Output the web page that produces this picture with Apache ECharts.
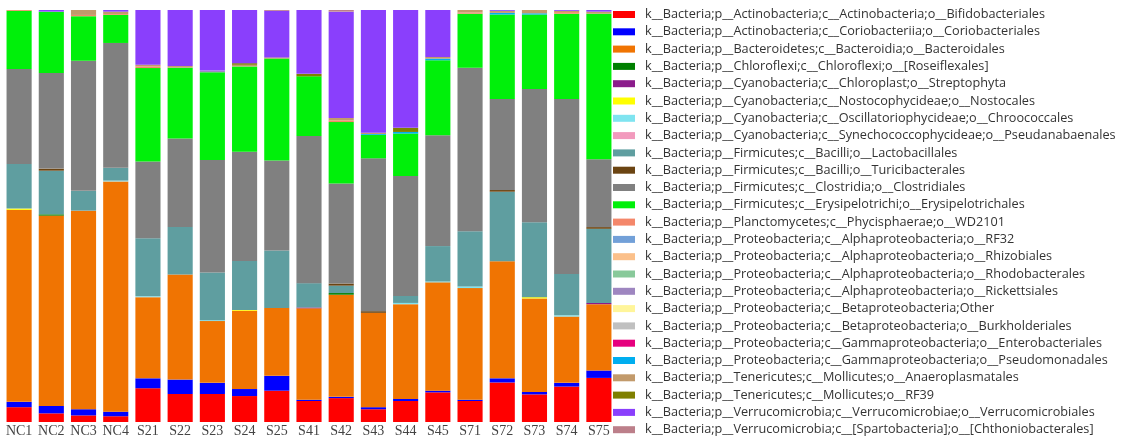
<!DOCTYPE html>
<html>
<head>
<meta charset="utf-8">
<script src="https://cdn.jsdelivr.net/npm/echarts@6/dist/echarts.min.js"></script>
<style>html,body{margin:0;padding:0;background:#fff;}#c{width:1125px;height:438px;}</style>
</head>
<body>
<div id="c"></div>
<script>
const categories = ['NC1','NC2','NC3','NC4','S21','S22','S23','S24','S25','S41','S42','S43','S44','S45','S71','S72','S73','S74','S75'];
const seriesNames = [
'k__Bacteria;p__Actinobacteria;c__Actinobacteria;o__Bifidobacteriales',
'k__Bacteria;p__Actinobacteria;c__Coriobacteriia;o__Coriobacteriales',
'k__Bacteria;p__Bacteroidetes;c__Bacteroidia;o__Bacteroidales',
'k__Bacteria;p__Chloroflexi;c__Chloroflexi;o__[Roseiflexales]',
'k__Bacteria;p__Cyanobacteria;c__Chloroplast;o__Streptophyta',
'k__Bacteria;p__Cyanobacteria;c__Nostocophycideae;o__Nostocales',
'k__Bacteria;p__Cyanobacteria;c__Oscillatoriophycideae;o__Chroococcales',
'k__Bacteria;p__Cyanobacteria;c__Synechococcophycideae;o__Pseudanabaenales',
'k__Bacteria;p__Firmicutes;c__Bacilli;o__Lactobacillales',
'k__Bacteria;p__Firmicutes;c__Bacilli;o__Turicibacterales',
'k__Bacteria;p__Firmicutes;c__Clostridia;o__Clostridiales',
'k__Bacteria;p__Firmicutes;c__Erysipelotrichi;o__Erysipelotrichales',
'k__Bacteria;p__Planctomycetes;c__Phycisphaerae;o__WD2101',
'k__Bacteria;p__Proteobacteria;c__Alphaproteobacteria;o__RF32',
'k__Bacteria;p__Proteobacteria;c__Alphaproteobacteria;o__Rhizobiales',
'k__Bacteria;p__Proteobacteria;c__Alphaproteobacteria;o__Rhodobacterales',
'k__Bacteria;p__Proteobacteria;c__Alphaproteobacteria;o__Rickettsiales',
'k__Bacteria;p__Proteobacteria;c__Betaproteobacteria;Other',
'k__Bacteria;p__Proteobacteria;c__Betaproteobacteria;o__Burkholderiales',
'k__Bacteria;p__Proteobacteria;c__Gammaproteobacteria;o__Enterobacteriales',
'k__Bacteria;p__Proteobacteria;c__Gammaproteobacteria;o__Pseudomonadales',
'k__Bacteria;p__Tenericutes;c__Mollicutes;o__Anaeroplasmatales',
'k__Bacteria;p__Tenericutes;c__Mollicutes;o__RF39',
'k__Bacteria;p__Verrucomicrobia;c__Verrucomicrobiae;o__Verrucomicrobiales',
'k__Bacteria;p__Verrucomicrobia;c__[Spartobacteria];o__[Chthoniobacterales]'
];
const colors = ['#FF0000','#0000FF','#F07402','#007F00','#8B1C8B','#FFFF00','#7FE4F0','#F29ABD','#5F9EA0','#6B4412','#808080','#00F00A','#F4876A','#72A0D8','#FBC08A','#88C99A','#9E86C0','#FFF59A','#C0C0C0','#E6007E','#00AEEF','#C29A6B','#7F7F00','#8A3FFC','#BC7F8A'];

// values in percent, one array per order (bottom to top of stack)
const bifidobacteriales   = [3.6,2.1,1.6,1.4,8.2,6.8,6.8,6.3,7.6,5.1,5.8,3.1,5.1,7.2,5.1,9.6,6.7,8.6,10.7];
const coriobacteriales    = [1.3,1.8,1.5,1.1,2.4,3.5,2.7,1.7,3.6,0.3,0.3,0.5,0.5,0.4,0.3,1.0,0.6,0.9,1.8];
const bacteroidales       = [46.6,46.2,48.2,55.9,19.7,25.5,15.0,19.0,16.5,22.2,24.8,22.9,23.0,26.3,27.1,28.4,22.7,16.1,16.1];
const roseiflexales       = [0,0.3,0,0,0,0,0,0,0,0,0.4,0,0,0,0,0,0,0,0];
const streptophyta        = [0,0,0,0,0,0,0,0,0,0.2,0,0,0,0,0,0,0,0,0.3];
const nostocales          = [0.3,0,0,0,0,0,0,0.2,0,0,0,0,0,0,0,0,0.3,0,0];
const chroococcales       = [0,0,0,0.2,0.2,0,0.2,0,0,0,0,0,0.3,0.2,0.4,0,0,0.3,0];
const pseudanabaenales    = [0,0,0,0,0,0,0,0,0,0,0,0,0,0,0,0,0,0,0];
const lactobacillales     = [10.8,10.6,4.8,3.1,14.1,11.5,11.6,11.9,13.9,5.9,1.8,0,1.7,8.6,13.4,16.9,18.2,10.0,18.0];
const turicibacterales    = [0,0.5,0,0,0,0,0,0,0,0,0.5,0.4,0,0,0,0.4,0,0,0.4];
const clostridiales       = [23.1,23.2,31.6,30.3,18.6,21.5,27.3,26.5,21.9,35.7,24.3,37.1,29.1,26.9,39.7,22.1,32.3,42.5,16.5];
const erysipelotrichales  = [14.1,14.9,10.8,6.8,22.7,17.2,21.3,20.7,24.7,14.5,14.9,5.7,10.3,18.2,13.1,20.5,18.1,20.7,35.3];
const wd2101              = [0.2,0,0.3,0.2,0.4,0,0,0,0,0,0.4,0,0,0,0.3,0,0,0.4,0];
const rf32                = [0,0,0,0,0,0,0,0,0,0,0,0,0,0,0,0,0,0,0];
const rhizobiales         = [0,0,0,0,0,0,0,0,0,0,0,0,0,0,0,0,0,0,0];
const rhodobacterales     = [0,0,0,0,0,0,0,0,0,0,0,0,0,0,0,0,0,0,0];
const rickettsiales       = [0,0,0,0,0,0,0.4,0,0,0,0,0,0,0,0,0,0,0,0];
const betaOther           = [0,0,0,0,0,0,0,0,0,0,0,0,0,0,0,0,0,0,0];
const burkholderiales     = [0,0,0,0,0,0,0,0,0,0,0,0,0,0,0,0,0,0,0];
const enterobacteriales   = [0,0,0,0,0,0,0,0,0,0,0,0,0,0,0,0,0,0,0];
const pseudomonadales     = [0,0,0,0,0,0,0,0,0,0,0,0.2,0.4,0.4,0,0.4,0.3,0,0];
const anaeroplasmatales   = [0,0,1.2,0.6,0.4,0.4,0,0.4,0.3,0,0.6,0.3,0,0.4,0.6,0.5,0.8,0.3,0.5];
const rf39                = [0,0,0,0,0,0,0,0.4,0,0.6,0,0,1.0,0,0,0,0,0,0];
const verrucomicrobiales  = [0,0.4,0,0.4,13.3,13.6,14.7,12.9,11.3,15.5,25.8,29.8,28.6,11.4,0,0.2,0,0.2,0.4];
const chthoniobacterales  = [0,0,0,0,0,0,0,0,0.2,0,0.4,0,0,0,0,0,0,0,0];

const seriesValues = [bifidobacteriales,coriobacteriales,bacteroidales,roseiflexales,streptophyta,nostocales,chroococcales,pseudanabaenales,lactobacillales,turicibacterales,clostridiales,erysipelotrichales,wd2101,rf32,rhizobiales,rhodobacterales,rickettsiales,betaOther,burkholderiales,enterobacteriales,pseudomonadales,anaeroplasmatales,rf39,verrucomicrobiales,chthoniobacterales];

const chart = echarts.init(document.getElementById('c'), null, {renderer:'canvas'});
chart.setOption({
  animation:false,
  color: colors,
  grid:{left:3, right:510, top:10, bottom:13, containLabel:false},
  xAxis:{type:'category', data:categories, axisLine:{show:false}, axisTick:{show:false},
    axisLabel:{margin:2, fontFamily:'Liberation Serif', fontSize:14, color:'#444', interval:0}},
  yAxis:{type:'value', min:0, max:100, show:false, splitLine:{show:false}},
  legend:{orient:'vertical', left:613, top:8, height:436, padding:0, itemWidth:22, itemHeight:7, itemGap:4.3, icon:'rect',
    data: seriesNames,
    textStyle:{fontFamily:'Open Sans', fontSize:12.7, color:'#333', padding:[0,0,0,5]}},
  series: seriesNames.map((n,i)=>({name:n, type:'bar', stack:'all', barWidth:'78%', data:seriesValues[i], itemStyle:{color:colors[i]}}))
});
</script>
</body>
</html>
